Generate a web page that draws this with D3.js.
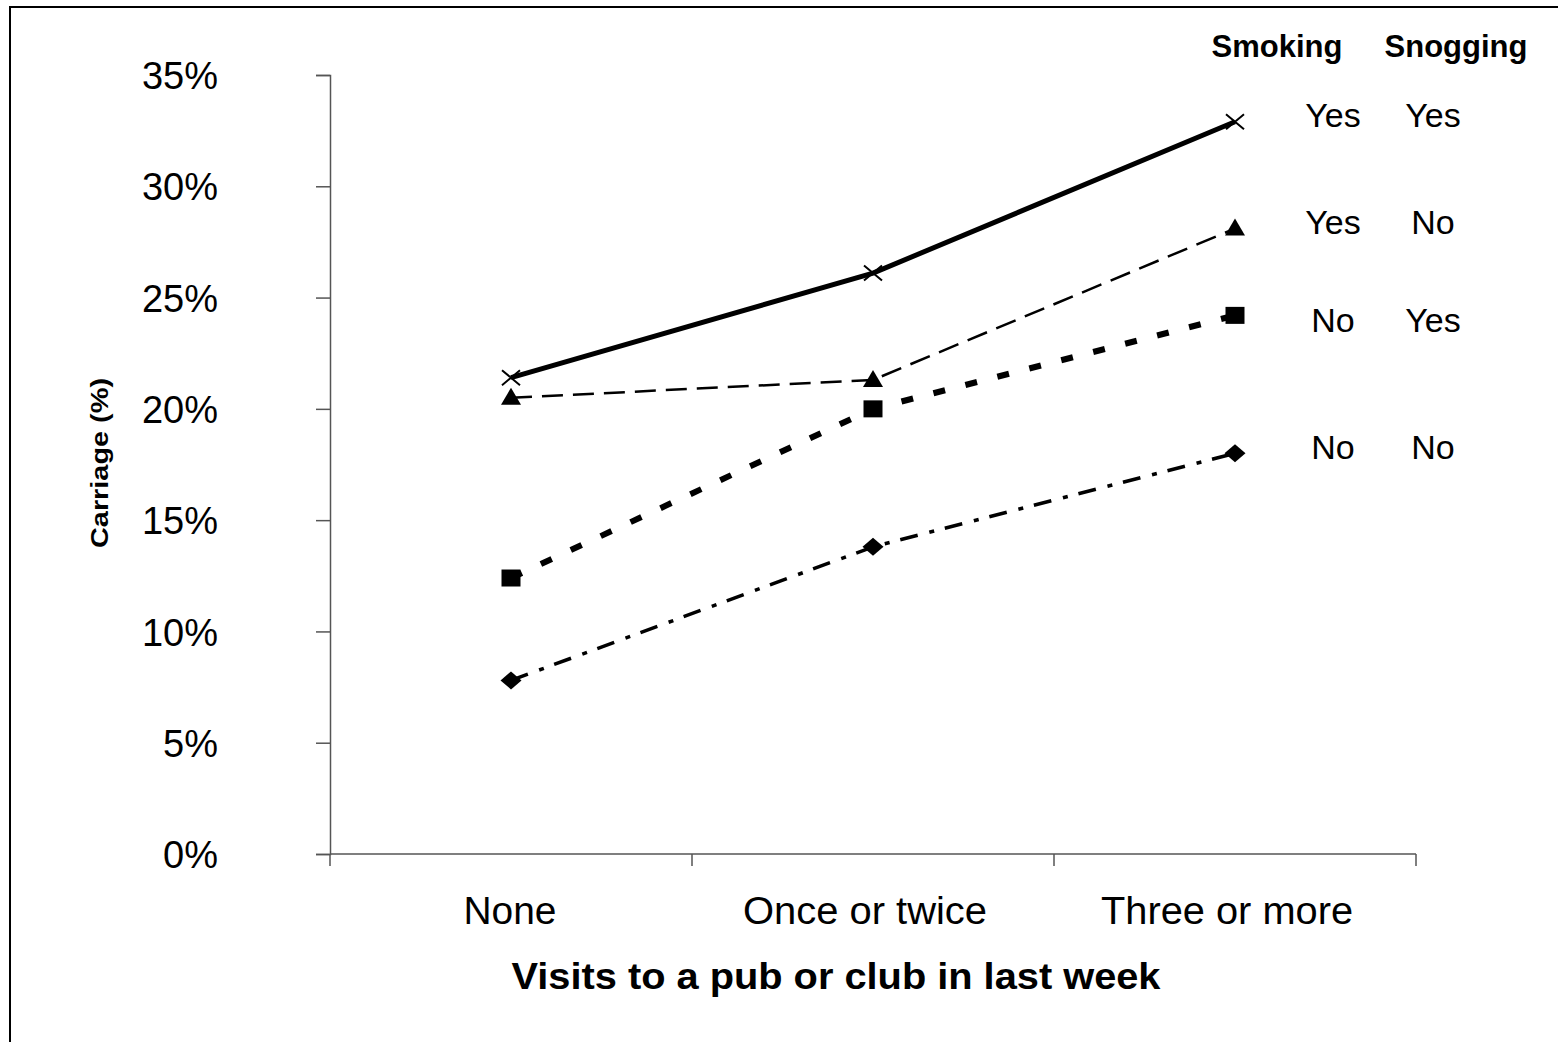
<!DOCTYPE html>
<html>
<head>
<meta charset="utf-8">
<script src="https://cdn.jsdelivr.net/npm/d3@7"></script>
<style>
  html, body { margin: 0; padding: 0; background: #fff; }
  svg { display: block; }
  text { font-family: "Liberation Sans", Arial, sans-serif; fill: #000; }
</style>
</head>
<body>
<svg id="chart" width="1558" height="1042"></svg>
<script>
// ---- data ----
const categories = ["None", "Once or twice", "Three or more"];
const seriesNames = ["Yes/Yes", "Yes/No", "No/Yes", "No/No"];
const smokingLabels = ["Yes", "Yes", "No", "No"];
const snoggingLabels = ["Yes", "No", "Yes", "No"];
const yesYes = [21.4, 26.1, 32.9];
const yesNo = [20.5, 21.3, 28.1];
const noYes = [12.4, 20.0, 24.2];
const noNo = [7.8, 13.8, 18.0];
const yTicks = [0, 5, 10, 15, 20, 25, 30, 35];
const legendYValues = [33.2, 28.4, 24.0, 18.3];
const xTitle = "Visits to a pub or club in last week";
const yTitle = "Carriage (%)";

// ---- styles ----
const styles = [
  { values: yesYes, width: 5, dash: null, symbol: "x" },
  { values: yesNo, width: 2.5, dash: "21,10", symbol: "triangle" },
  { values: noYes, width: 6, dash: "12,21", symbol: "square" },
  { values: noNo, width: 3.5, dash: "18,12,5,11", symbol: "diamond" }
];

const svg = d3.select("#chart");

// frame
svg.append("path")
  .attr("d", "M10,1050 L10,7 L1570,7")
  .attr("fill", "none").attr("stroke", "#000").attr("stroke-width", 2);

const x = d3.scalePoint().domain(categories).range([330, 1416]).padding(0.5);
const y = d3.scaleLinear().domain([0, 35]).range([854, 75]);

// y axis
const yAxis = svg.append("g").attr("transform", "translate(330,0)")
  .call(d3.axisLeft(y).tickValues(yTicks).tickSize(14).tickFormat(d => d + "%"));
yAxis.select(".domain").attr("stroke", "#555").attr("stroke-width", 1.5);
yAxis.selectAll(".tick line").attr("stroke", "#555").attr("stroke-width", 1.5);
yAxis.selectAll(".tick text")
  .attr("x", -112).attr("dy", "0.36em")
  .style("font-size", "38px").style("font-family", "Liberation Sans, Arial, sans-serif")
  .attr("fill", "#000");

// x axis with ticks at band boundaries
const xBand = d3.scaleBand().domain(categories).range([330, 1416]);
const xg = svg.append("g");
xg.append("line").attr("x1", 330).attr("x2", 1416).attr("y1", 854).attr("y2", 854)
  .attr("stroke", "#555").attr("stroke-width", 1.5);
const bounds = categories.map(c => xBand(c)).concat([xBand(categories[2]) + xBand.bandwidth()]);
xg.selectAll("line.xt").data(bounds).enter().append("line")
  .attr("class", "xt")
  .attr("x1", d => d).attr("x2", d => d).attr("y1", 854).attr("y2", 866)
  .attr("stroke", "#555").attr("stroke-width", 1.5);
const xLabelWidths = [93, 244, 252];
xg.selectAll("text.xl").data(categories).enter().append("text")
  .attr("class", "xl")
  .attr("x", (d, i) => x(d) - (i === 0 ? 1 : 8)).attr("y", 924)
  .attr("text-anchor", "middle")
  .attr("textLength", (d, i) => xLabelWidths[i])
  .attr("lengthAdjust", "spacingAndGlyphs")
  .style("font-size", "38px")
  .text(d => d);

// titles
svg.append("text").attr("x", 836).attr("y", 989)
  .attr("text-anchor", "middle").style("font-size", "37px").style("font-weight", "bold")
  .attr("textLength", 649).attr("lengthAdjust", "spacingAndGlyphs")
  .text(xTitle);
svg.append("text")
  .attr("transform", "translate(108,463) rotate(-90)")
  .attr("text-anchor", "middle").style("font-size", "23px").style("font-weight", "bold")
  .attr("textLength", 170).attr("lengthAdjust", "spacingAndGlyphs")
  .text(yTitle);

// lines
const line = d3.line().x((d, i) => x(categories[i])).y(d => y(d));
styles.forEach(s => {
  svg.append("path").datum(s.values)
    .attr("d", line)
    .attr("fill", "none").attr("stroke", "#000")
    .attr("stroke-width", s.width)
    .attr("stroke-dasharray", s.dash);
});

// markers
styles.forEach(s => {
  const g = svg.append("g");
  s.values.forEach((v, i) => {
    const cx = x(categories[i]), cy = y(v);
    let d;
    if (s.symbol === "x") {
      g.append("path")
        .attr("d", `M${cx - 9},${cy - 7.5}L${cx + 9},${cy + 7.5}M${cx - 9},${cy + 7.5}L${cx + 9},${cy - 7.5}`)
        .attr("stroke", "#000").attr("stroke-width", 2).attr("fill", "none");
      return;
    } else if (s.symbol === "triangle") {
      d = `M${cx},${cy - 10}L${cx + 10},${cy + 7}L${cx - 10},${cy + 7}Z`;
    } else if (s.symbol === "square") {
      d = `M${cx - 9.5},${cy - 8.5}h19v17h-19Z`;
    } else {
      d = `M${cx},${cy - 9}L${cx + 10.5},${cy}L${cx},${cy + 9}L${cx - 10.5},${cy}Z`;
    }
    g.append("path").attr("d", d).attr("fill", "#000");
  });
});

// legend table
const lg = svg.append("g");
lg.append("text").attr("x", 1277).attr("y", 57).attr("text-anchor", "middle")
  .style("font-size", "31px").style("font-weight", "bold").text("Smoking");
lg.append("text").attr("x", 1456).attr("y", 57).attr("text-anchor", "middle")
  .style("font-size", "31px").style("font-weight", "bold").text("Snogging");
legendYValues.forEach((v, i) => {
  lg.append("text").attr("x", 1333).attr("y", y(v)).attr("dy", "0.36em")
    .attr("text-anchor", "middle").style("font-size", "34px").text(smokingLabels[i]);
  lg.append("text").attr("x", 1433).attr("y", y(v)).attr("dy", "0.36em")
    .attr("text-anchor", "middle").style("font-size", "34px").text(snoggingLabels[i]);
});
</script>
</body>
</html>
